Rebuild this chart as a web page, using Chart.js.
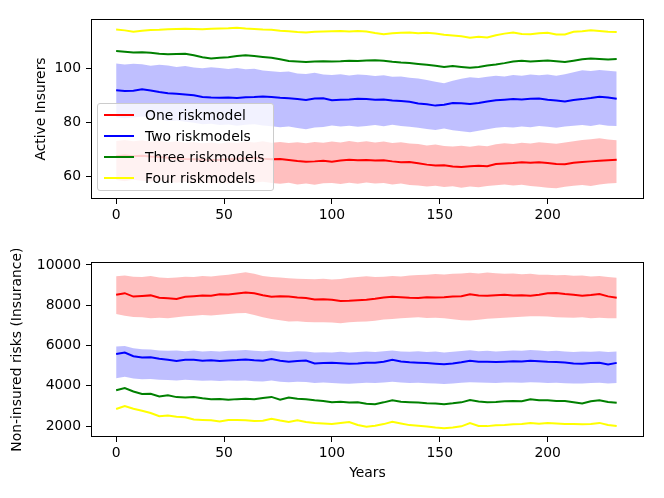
<!DOCTYPE html>
<html>
<head>
<meta charset="utf-8">
<script src="https://cdn.jsdelivr.net/npm/chart.js@4.4.0/dist/chart.umd.min.js"></script>
<style>
  html, body { margin: 0; padding: 0; background: #fff; }
  #wrap { position: relative; width: 664px; height: 498px; font-family: "DejaVu Sans", sans-serif; }
  .box { position: absolute; left: 0; width: 664px; height: 249px; }
  #legend {
    position: absolute; left: 97px; top: 103px; width: 177px; height: 88px;
    border: 1px solid #cccccc; border-radius: 3px; background: rgba(255,255,255,0.8);
    font-size: 13.9px; color: #000; box-sizing: border-box;
  }
  .row { position: absolute; left: 0; height: 20px; line-height: 20px; white-space: nowrap; }
  .row i { position: absolute; left: 6px; top: 9px; width: 30px; height: 2px; }
  .row span { position: absolute; left: 47px; top: 0; }
</style>
</head>
<body>
<div id="wrap">
  <div class="box" style="top:0"><canvas id="top"></canvas></div>
  <div class="box" style="top:249px"><canvas id="bottom"></canvas></div>
  <div id="legend"></div>
</div>
<script>
// ================= DATA =================
const years = [0, 4, 8, 12, 16, 20, 24, 28, 32, 36,
  40, 44, 48, 52, 56, 60, 64, 68, 72, 76,
  80, 84, 88, 92, 96, 100, 104, 108, 112, 116,
  120, 124, 128, 132, 136, 140, 144, 148, 152, 156,
  160, 164, 168, 172, 176, 180, 184, 188, 192, 196,
  200, 204, 208, 212, 216, 220, 224, 228, 232];

const seriesNames = ["One riskmodel", "Two riskmodels", "Three riskmodels", "Four riskmodels"];
const seriesColors = ["#ff0000", "#0000ff", "#008000", "#ffff00"];

const xTicks = [0, 50, 100, 150, 200];
const topTicks = [60, 80, 100];
const bottomTicks = [2000, 4000, 6000, 8000, 10000];

// Active insurers (top)
const active1 = [67.6, 67.9, 67.6, 67.8, 67.5, 67.3, 67.0, 66.8, 66.6, 66.5,
  66.4, 66.2, 66.3, 66.5, 66.7, 66.9, 67.0, 66.7, 66.5, 66.6,
  66.2, 65.8, 65.6, 65.7, 65.9, 65.6, 66.0, 66.3, 66.1, 66.2,
  66.0, 66.1, 65.7, 65.4, 65.5, 65.0, 64.5, 64.2, 64.3, 63.8,
  63.6, 63.9, 64.1, 63.9, 64.7, 64.9, 65.1, 65.4, 65.2, 65.4,
  65.1, 64.7, 64.6, 65.2, 65.5, 65.7, 65.9, 66.1, 66.3];
const active1Hi = [73.2, 73.6, 73.1, 73.5, 73.0, 73.3, 72.8, 73.1, 72.6, 72.9,
  72.4, 72.7, 72.3, 72.8, 72.5, 73.0, 72.7, 73.1, 72.6, 72.9,
  72.5, 72.8, 72.4, 72.9, 72.6, 73.0, 72.7, 73.2, 72.8, 73.1,
  72.7, 73.0, 72.5, 72.8, 72.3, 72.1, 71.6, 71.9, 71.4, 71.2,
  71.5, 71.1, 71.6, 71.3, 72.0, 72.4, 72.1, 72.6, 72.3, 72.8,
  72.5, 72.2, 72.7, 73.1, 73.6, 73.9, 74.2, 73.8, 73.5];
const active1Lo = [58.8, 58.4, 58.9, 58.5, 58.2, 58.6, 58.1, 57.8, 58.2, 57.7,
  58.0, 57.6, 57.9, 57.5, 57.9, 58.1, 57.8, 58.2, 57.7, 57.4,
  57.8, 57.2, 57.5, 57.1, 57.6, 57.7, 57.3, 57.8, 57.4, 57.9,
  57.5, 57.7, 57.2, 57.5, 57.0, 56.8, 56.4, 56.7, 56.2, 56.5,
  56.0, 56.4, 56.1, 56.6, 56.9, 57.2, 56.8, 57.1, 56.6, 56.3,
  56.0, 55.8, 56.3, 56.7, 57.0, 56.6, 57.2, 57.5, 57.7];
const active2 = [92.0, 91.7, 91.8, 92.3, 91.9, 91.3, 90.9, 90.7, 90.4, 90.1,
  89.5, 89.3, 89.2, 89.3, 89.1, 89.4, 89.5, 89.7, 89.5, 89.2,
  89.0, 88.7, 88.4, 88.9, 89.0, 88.3, 88.5, 88.6, 88.8, 88.7,
  88.5, 88.6, 88.2, 88.0, 87.7, 87.1, 86.8, 86.3, 86.6, 87.3,
  87.2, 86.9, 87.3, 87.8, 88.3, 88.5, 88.7, 88.6, 88.8, 88.9,
  88.5, 88.2, 87.8, 88.4, 88.7, 89.1, 89.6, 89.3, 88.8];
const active2Hi = [101.9, 101.5, 101.8, 101.6, 101.0, 101.4, 101.1, 100.6, 100.9, 100.4,
  100.1, 100.5, 100.2, 99.8, 100.2, 99.7, 99.9, 99.3, 99.0, 98.7,
  98.9, 98.2, 98.0, 98.4, 97.8, 97.6, 97.9, 97.4, 97.8, 97.6,
  97.2, 97.5, 97.0, 97.1, 96.6, 96.3, 95.8, 95.1, 94.6, 95.5,
  96.2, 96.8, 96.5, 97.0, 97.3, 97.1, 97.6, 97.3, 97.8, 97.5,
  97.8, 97.3, 97.9, 98.6, 99.4, 99.1, 99.5, 99.2, 98.9];
const active2Lo = [82.0, 81.6, 81.9, 82.3, 81.7, 81.2, 80.6, 80.8, 80.3, 80.0,
  79.4, 79.6, 79.1, 79.3, 78.9, 79.2, 79.4, 79.0, 78.7, 78.3,
  78.6, 78.0, 77.6, 78.2, 78.4, 79.0, 78.6, 78.9, 78.5, 78.8,
  79.1, 78.7, 79.2, 78.8, 78.5, 78.1, 77.7, 77.3, 77.8, 77.2,
  76.8, 76.5, 77.0, 77.6, 78.1, 78.4, 78.2, 78.6, 78.3, 78.8,
  78.5, 78.1, 78.6, 78.9, 79.1, 78.8, 79.3, 78.9, 78.8];
const active3 = [106.5, 106.2, 105.9, 106.0, 105.8, 105.5, 105.3, 105.4, 105.5, 104.9,
  104.2, 103.7, 104.0, 104.2, 104.6, 104.9, 104.6, 104.3, 104.0, 103.4,
  102.8, 102.6, 102.4, 102.6, 102.7, 102.6, 102.7, 102.9, 102.8, 103.0,
  103.1, 102.9, 102.5, 102.2, 102.0, 101.7, 101.4, 101.0, 100.6, 100.9,
  100.6, 100.3, 100.6, 101.1, 101.5, 102.0, 102.6, 102.9, 102.6, 102.8,
  103.0, 102.7, 102.4, 102.9, 103.4, 103.7, 103.5, 103.3, 103.5];
const active4 = [114.4, 114.1, 113.6, 114.0, 114.2, 114.3, 114.5, 114.6, 114.7, 114.6,
  114.5, 114.7, 114.8, 114.9, 115.1, 114.8, 114.6, 114.4, 114.3, 114.0,
  113.8, 113.5, 113.3, 113.6, 113.7, 113.8, 113.9, 113.7, 113.9, 113.7,
  113.1, 112.7, 113.0, 113.2, 113.3, 113.0, 113.2, 112.9, 112.5, 112.2,
  111.9, 111.4, 111.7, 111.5, 112.3, 112.9, 113.3, 112.8, 112.7, 113.0,
  113.2, 112.6, 112.6, 113.6, 113.8, 114.1, 113.9, 113.6, 113.5];

// Non-insured risks (bottom)
const risks1 = [8520, 8600, 8430, 8460, 8490, 8370, 8350, 8310, 8420, 8450,
  8480, 8470, 8540, 8530, 8580, 8630, 8590, 8500, 8420, 8450,
  8430, 8380, 8360, 8290, 8300, 8270, 8210, 8220, 8250, 8270,
  8320, 8380, 8420, 8400, 8370, 8360, 8400, 8380, 8400, 8430,
  8450, 8550, 8480, 8470, 8500, 8520, 8490, 8500, 8470, 8520,
  8590, 8610, 8560, 8520, 8470, 8510, 8560, 8440, 8370];
const risks1Hi = [9440, 9480, 9420, 9400, 9450, 9380, 9350, 9380, 9420, 9400,
  9450, 9430, 9480, 9520, 9580, 9640, 9560, 9450, 9400, 9380,
  9340, 9320, 9300, 9290, 9310, 9280, 9300, 9360, 9400, 9440,
  9400, 9420, 9450, 9430, 9480, 9500, 9520, 9550, 9530, 9560,
  9580, 9610, 9580, 9620, 9590, 9560, 9570, 9540, 9560, 9520,
  9510, 9490, 9500, 9470, 9480, 9430, 9450, 9400, 9360];
const risks1Lo = [7560, 7480, 7420, 7400, 7350, 7380, 7350, 7400, 7450, 7480,
  7510, 7490, 7530, 7560, 7600, 7620, 7520, 7400, 7320, 7250,
  7190, 7210, 7170, 7150, 7160, 7140, 7110, 7150, 7180, 7190,
  7230, 7290, 7320, 7350, 7380, 7400, 7370, 7380, 7350, 7300,
  7260, 7240, 7280, 7330, 7360, 7380, 7400, 7430, 7450, 7460,
  7440, 7410, 7390, 7380, 7400, 7360, 7380, 7350, 7350];
const risks2 = [5580, 5650, 5470, 5410, 5420, 5340, 5290, 5230, 5290, 5300,
  5250, 5270, 5230, 5260, 5280, 5310, 5270, 5250, 5330, 5240,
  5190, 5230, 5260, 5110, 5130, 5140, 5120, 5090, 5110, 5150,
  5140, 5200, 5290, 5210, 5170, 5150, 5130, 5100, 5070, 5110,
  5170, 5240, 5200, 5190, 5180, 5200, 5220, 5210, 5250, 5220,
  5190, 5180, 5160, 5110, 5100, 5130, 5150, 5060, 5140];
const risks2Hi = [5950, 5980, 5870, 5820, 5800, 5760, 5740, 5760, 5720, 5750,
  5700, 5730, 5710, 5740, 5760, 5780, 5740, 5720, 5760, 5710,
  5680, 5720, 5700, 5650, 5670, 5660, 5690, 5650, 5680, 5700,
  5680, 5720, 5760, 5700, 5690, 5720, 5680, 5700, 5660, 5690,
  5730, 5770, 5720, 5740, 5710, 5730, 5750, 5740, 5780, 5750,
  5720, 5740, 5700, 5680, 5710, 5690, 5720, 5680, 5700];
const risks2Lo = [4380, 4450, 4360, 4330, 4340, 4300, 4290, 4270, 4300, 4280,
  4250, 4270, 4240, 4260, 4250, 4270, 4230, 4220, 4260, 4200,
  4180, 4200, 4190, 4140, 4160, 4140, 4120, 4100, 4130, 4150,
  4140, 4170, 4200, 4160, 4140, 4150, 4130, 4110, 4090, 4120,
  4150, 4180, 4160, 4150, 4140, 4160, 4170, 4150, 4180, 4160,
  4140, 4150, 4130, 4110, 4120, 4140, 4150, 4120, 4140];
const risks3 = [3780, 3890, 3720, 3600, 3610, 3470, 3530, 3440, 3420, 3450,
  3380, 3340, 3350, 3310, 3340, 3360, 3330, 3400, 3450, 3310,
  3420, 3360, 3330, 3280, 3250, 3180, 3210, 3170, 3180, 3110,
  3090, 3180, 3280, 3210, 3190, 3170, 3140, 3120, 3090, 3130,
  3180, 3290, 3220, 3180, 3200, 3230, 3250, 3240, 3330, 3290,
  3280, 3250, 3250, 3190, 3120, 3230, 3280, 3200, 3160];
const risks4 = [2850, 3000, 2860, 2760, 2650, 2490, 2530, 2470, 2440, 2330,
  2310, 2290, 2230, 2300, 2310, 2290, 2250, 2270, 2360, 2280,
  2210, 2290, 2200, 2160, 2130, 2100, 2150, 2200, 2060, 1970,
  2020, 2100, 2210, 2130, 2050, 2020, 1980, 1930, 1890, 1930,
  1990, 2150, 2010, 2000, 2040, 2060, 2090, 2100, 2160, 2120,
  2150, 2130, 2100, 2110, 2090, 2110, 2160, 2060, 2010];

// ================= HELPERS =================
Chart.defaults.font.family = "DejaVu Sans";
Chart.defaults.font.size = 13.9;
Chart.defaults.color = "#000";
const FONT = { family: "DejaVu Sans", size: 13.9 };

function pts(values) {
  return years.map((x, i) => ({ x: x, y: values[i] }));
}

function line(values, idx) {
  return {
    label: seriesNames[idx],
    data: pts(values),
    borderColor: seriesColors[idx],
    borderWidth: 2,
    pointRadius: 0,
    tension: 0,
    fill: false
  };
}

function band(hi, lo, color) {
  return [
    { data: pts(hi), borderWidth: 0, pointRadius: 0, borderColor: "transparent", backgroundColor: color, fill: "+1" },
    { data: pts(lo), borderWidth: 0, pointRadius: 0, borderColor: "transparent", fill: false }
  ];
}

// draws all four spines like matplotlib
const framePlugin = {
  id: "frame",
  afterDraw(chart) {
    const a = chart.chartArea;
    const ctx = chart.ctx;
    ctx.save();
    ctx.strokeStyle = "#000";
    ctx.lineWidth = 1;
    ctx.strokeRect(Math.round(a.left) + 0.5, Math.round(a.top) + 0.5,
      Math.round(a.right - a.left) - 1, Math.round(a.bottom - a.top) - 1);
    ctx.restore();
  }
};

function makeChart(canvasId, datasets, opts) {
  return new Chart(document.getElementById(canvasId).getContext("2d"), {
    type: "line",
    data: { datasets: datasets },
    plugins: [framePlugin],
    options: {
      responsive: true,
      maintainAspectRatio: false,
      animation: false,
      events: [],
      layout: { padding: { top: opts.padTop, right: 20, left: 0, bottom: 0 } },
      plugins: {
        legend: { display: false },
        tooltip: { enabled: false },
        filler: { drawTime: "beforeDatasetsDraw" }
      },
      scales: {
        x: {
          type: "linear",
          min: -11.65,
          max: 244.65,
          afterBuildTicks: s => { s.ticks = xTicks.map(v => ({ value: v })); },
          afterFit: s => { s.height = opts.xHeight; },
          ticks: { color: "#000", font: FONT, padding: 3, maxRotation: 0, callback: v => String(v) },
          grid: { drawOnChartArea: false, drawTicks: true, tickLength: 5, color: "#000" },
          border: { display: false },
          title: opts.xTitle
            ? { display: true, text: opts.xTitle, color: "#000", font: FONT, padding: { top: 0, bottom: 16.6 } }
            : { display: false }
        },
        y: {
          min: opts.yMin,
          max: opts.yMax,
          afterBuildTicks: s => { s.ticks = opts.yTicks.map(v => ({ value: v })); },
          afterFit: s => { s.width = 91; },
          ticks: { color: "#000", font: FONT, padding: 5, callback: v => String(v) },
          grid: { drawOnChartArea: false, drawTicks: true, tickLength: 5, color: "#000" },
          border: { display: false },
          title: { display: true, text: opts.yTitle, color: "#000", font: FONT, padding: { top: opts.yTitlePad, bottom: 0 } }
        }
      }
    }
  });
}

// ================= CHARTS =================
makeChart("top", [
  line(active1, 0), line(active2, 1), line(active3, 2), line(active4, 3),
  ...band(active1Hi, active1Lo, "rgba(255,0,0,0.25)"),
  ...band(active2Hi, active2Lo, "rgba(0,0,255,0.25)")
], {
  padTop: 19, xHeight: 50, yMin: 51.8, yMax: 118.3, yTicks: topTicks,
  yTitle: "Active Insurers", yTitlePad: 32.6
});

makeChart("bottom", [
  line(risks1, 0), line(risks2, 1), line(risks3, 2), line(risks4, 3),
  ...band(risks1Hi, risks1Lo, "rgba(255,0,0,0.25)"),
  ...band(risks2Hi, risks2Lo, "rgba(0,0,255,0.25)")
], {
  padTop: 8, xHeight: 61, yMin: 1460, yMax: 10130, yTicks: bottomTicks,
  yTitle: "Non-insured risks (Insurance)", yTitlePad: 8.6, xTitle: "Years"
});

// ================= LEGEND =================
const legend = document.getElementById("legend");
seriesNames.forEach((name, i) => {
  const row = document.createElement("div");
  row.className = "row";
  row.style.top = (1 + i * 21.1) + "px";
  row.innerHTML = `<i style="background:${seriesColors[i]}"></i><span>${name}</span>`;
  legend.appendChild(row);
});
</script>
</body>
</html>
